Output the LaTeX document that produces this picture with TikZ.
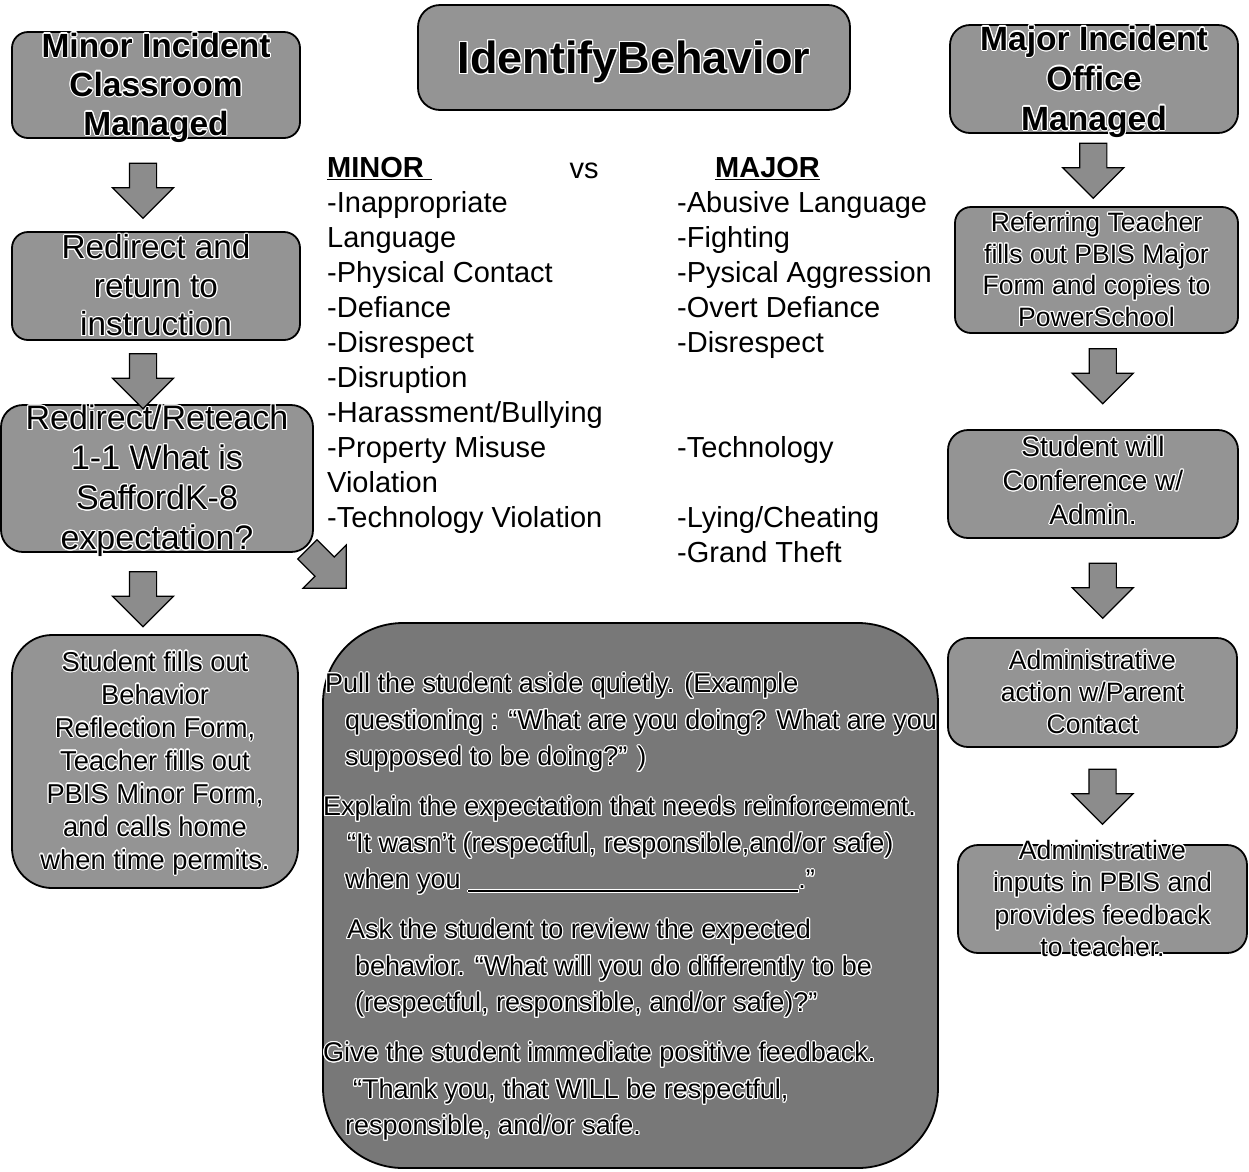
\documentclass[tikz,border=0pt]{standalone}
\usepackage{fontspec}
\setmainfont{Liberation Sans}
\usepackage{contour}
\contourlength{1.1pt}
\usetikzlibrary{shapes.arrows,calc,positioning}

\definecolor{boxgray}{gray}{0.58}
\definecolor{panelgray}{gray}{0.47}
\definecolor{arrowgray}{gray}{0.55}
\newcommand{\halo}[1]{\contour{white}{#1}}

\begin{document}
\begin{tikzpicture}[x=1pt,y=-1pt,
    flowbox/.style={draw=black,line width=1.8pt,fill=boxgray,rounded corners=16pt,inner sep=0pt},
    boxtext/.style={align=center,inner sep=0pt,font=\fontsize{27}{33}\selectfont},
    downarrow/.style={single arrow,draw=black,line width=1.2pt,fill=arrowgray,
      minimum height=55pt,minimum width=60pt,single arrow head extend=17pt,
      inner xsep=0pt,inner ysep=13pt,rotate=-90},
    listtext/.style={align=left,anchor=north west,inner sep=0pt,font=\fontsize{29}{35}\selectfont}]
\useasboundingbox (0,0) rectangle (1249,1171);

% left column: minor incidents
\node[flowbox,minimum width=288pt,minimum height=106pt,
  label={[boxtext,yshift=-3pt,font=\bfseries\fontsize{33.5}{39}\selectfont]center:{\halo{Minor Incident}\\\halo{Classroom}\\\halo{Managed}}}] (minor) at (156,85) {};
\node[flowbox,minimum width=288pt,minimum height=108pt,
  label={[boxtext,font=\fontsize{33.3}{38.5}\selectfont]center:{\halo{Redirect and}\\\halo{return to}\\\halo{instruction}}}] (redirect) at (156,286) {};
\node[flowbox,rounded corners=22pt,minimum width=312pt,minimum height=147pt,
  label={[boxtext,yshift=-3pt,font=\fontsize{34}{40}\selectfont]center:{\halo{Redirect/Reteach}\\\halo{1-1 What is}\\\halo{SaffordK-8}\\\halo{expectation?}}}] (reteach) at (157,478.5) {};
\node[flowbox,rounded corners=40pt,minimum width=286pt,minimum height=253pt,
  label={[boxtext,yshift=-2pt,font=\fontsize{27.3}{33}\selectfont]center:{\halo{Student fills out}\\\halo{Behavior}\\\halo{Reflection Form,}\\\halo{Teacher fills out}\\\halo{PBIS Minor Form,}\\\halo{and calls home}\\\halo{when time permits.}}}] (reflect) at (155,761.5) {};

\node[xshift=-13pt,yshift=1pt,downarrow] (a1) at ($(minor.south)!.5!(redirect.north)$) {};
\node[xshift=-13.5pt,yshift=-2pt,downarrow] (a2) at ($(redirect.south)!.5!(reteach.north)$) {};
\node[xshift=-13pt,yshift=1pt,downarrow] (a3) at ($(reteach.south)!.5!(reflect.north)$) {};
\node[downarrow,rotate=45] (a4) at (322,564) {};

% middle: title, lists and the reteach steps
\node[flowbox,rounded corners=22pt,minimum width=432pt,minimum height=105pt,
  label={[boxtext,yshift=-5pt,font=\bfseries\fontsize{45}{50}\selectfont]center:{\halo{IdentifyBehavior}}}] (title) at (634,57.5) {};

\node[listtext] (minorlist) at (327,157) {\textbf{\underline{MINOR\ }}\\
  -Inappropriate\\ Language\\ -Physical Contact\\ -Defiance\\ -Disrespect\\
  -Disruption\\ -Harassment/Bullying\\ -Property Misuse\\ Violation\\ -Technology Violation};
\node[anchor=base,inner sep=0pt,font=\fontsize{29}{35}\selectfont] (vs) at (584,178) {vs};
\node[listtext] (majorlist) at (677,157) {\hspace*{38pt}\textbf{\underline{MAJOR}}\\
  -Abusive Language\\ -Fighting\\ -Pysical Aggression\\ -Overt Defiance\\ -Disrespect\\
  \mbox{}\\ \mbox{}\\ -Technology\\ \mbox{}\\ -Lying/Cheating\\ -Grand Theft};

\node[flowbox,fill=panelgray,rounded corners=80pt,minimum width=615pt,minimum height=545pt] (panel) at (630.5,895.5) {};
\node[align=left,anchor=north west,inner sep=0pt,font=\fontsize{27}{36.5}\selectfont] (steps) at (323,673) {%
  \hspace*{2pt}\halo{Pull the student aside quietly. (Example}\\
  \hspace*{22pt}\halo{questioning : “What are you doing? What are you}\\
  \hspace*{22pt}\halo{supposed to be doing?” )}\\[13.5pt]
  \halo{Explain the expectation that needs reinforcement.}\\
  \hspace*{24pt}\halo{“It wasn’t (respectful, responsible,and/or safe)}\\
  \hspace*{22pt}\halo{when you \rule[-3pt]{330pt}{1.3pt}.”}\\[13.5pt]
  \hspace*{24pt}\halo{Ask the student to review the expected}\\
  \hspace*{32pt}\halo{behavior. “What will you do differently to be}\\
  \hspace*{32pt}\halo{(respectful, responsible, and/or safe)?”}\\[13.5pt]
  \halo{Give the student immediate positive feedback.}\\
  \hspace*{30pt}\halo{“Thank you, that WILL be respectful,}\\
  \hspace*{22pt}\halo{responsible, and/or safe.}};

% right column: major incidents
\node[flowbox,rounded corners=20pt,minimum width=288pt,minimum height=108pt,
  label={[boxtext,yshift=-3pt,font=\bfseries\fontsize{33.6}{40}\selectfont]center:{\halo{Major Incident}\\\halo{Office}\\\halo{Managed}}}] (major) at (1094,79) {};
\node[flowbox,minimum width=283pt,minimum height=126pt,
  label={[boxtext,font=\fontsize{26.6}{31.5}\selectfont]center:{\halo{Referring Teacher}\\\halo{fills out PBIS Major}\\\halo{Form and copies to}\\\halo{PowerSchool}}}] (refer) at (1096.5,270) {};
\node[flowbox,rounded corners=20pt,minimum width=290pt,minimum height=108pt,
  label={[boxtext,yshift=3pt,font=\fontsize{28}{34}\selectfont]center:{\halo{Student will}\\\halo{Conference w/}\\\halo{Admin.}}}] (conf) at (1093,484) {};
\node[flowbox,rounded corners=20pt,minimum width=289pt,minimum height=109pt,
  label={[boxtext,font=\fontsize{26.6}{32}\selectfont]center:{\halo{Administrative}\\\halo{action w/Parent}\\\halo{Contact}}}] (action) at (1092.5,692.5) {};
\node[flowbox,rounded corners=20pt,minimum width=289pt,minimum height=108pt,
  label={[boxtext,font=\fontsize{26.6}{32.5}\selectfont]center:{\halo{Administrative}\\\halo{inputs in PBIS and}\\\halo{provides feedback}\\\halo{to teacher.}}}] (inputs) at (1102.5,899) {};

\node[xshift=-2pt,yshift=6pt,downarrow] (b1) at ($(major.south)!.5!(refer.north)$) {};
\node[xshift=8pt,yshift=12pt,downarrow] (b2) at ($(refer.south)!.5!(conf.north)$) {};
\node[xshift=10pt,yshift=4pt,downarrow] (b3) at ($(conf.south)!.5!(action.north)$) {};
\node[xshift=5pt,yshift=6pt,downarrow] (b4) at ($(action.south)!.5!(inputs.north)$) {};
\end{tikzpicture}
\end{document}
